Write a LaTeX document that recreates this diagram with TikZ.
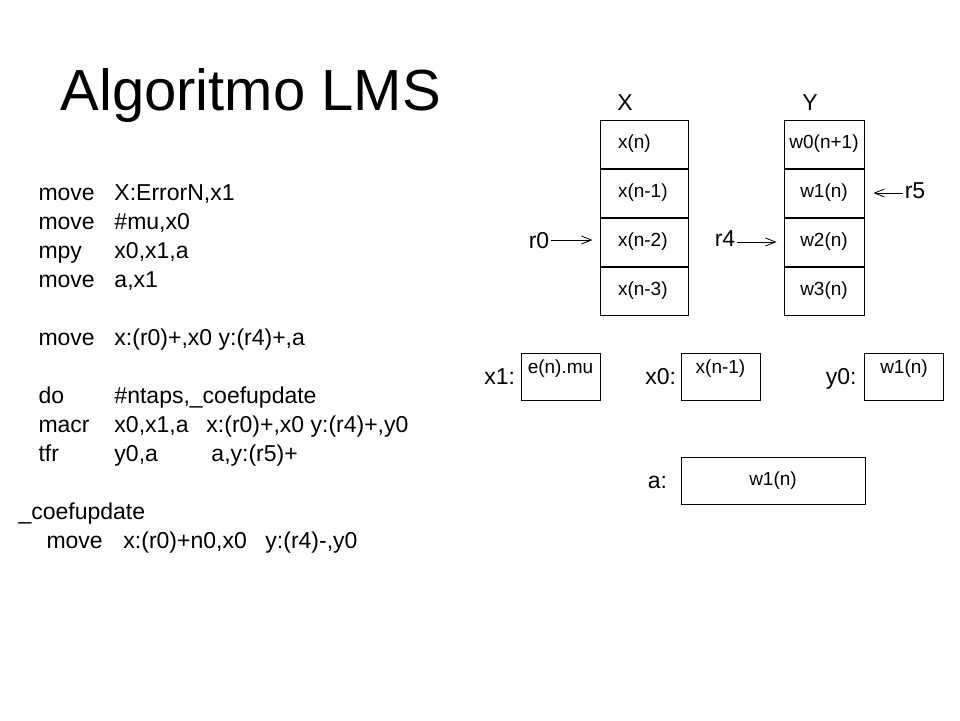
\documentclass[tikz,border=0pt]{standalone}
\usepackage{fontspec}
\setmainfont{Liberation Sans}
\usetikzlibrary{arrows.meta,positioning}
\tikzset
{
    titletext/.style = {anchor=base west, inner sep=0pt, font=\fontsize{58}{64}\selectfont},
    codeline/.style  = {anchor=base west, inner sep=0pt, font=\fontsize{23}{27}\selectfont},
    regname/.style   = {inner sep=1pt, text height=16pt, text depth=0pt, font=\fontsize{23}{27}\selectfont},
    cellx/.style     = {draw, line width=1pt, minimum height=48pt, inner xsep=18pt, text width=52pt, align=left, font=\fontsize{19}{21}\selectfont},
    celly/.style     = {draw, line width=1pt, minimum width=80pt, minimum height=48pt, inner sep=0pt, font=\fontsize{19}{21}\selectfont},
    regsmall/.style  = {draw, line width=1pt, minimum width=79pt, minimum height=47pt, inner sep=0pt, text height=13pt, text depth=20pt, font=\fontsize{19}{21}\selectfont},
    regwide/.style   = {draw, line width=1pt, minimum width=184pt, minimum height=47pt, inner sep=0pt, font=\fontsize{19}{21}\selectfont}
}
\newcommand{\opcol}[3][76pt]{\makebox[#1][l]{#2}#3}

\begin{document}
\begin{tikzpicture}[x=1pt, y=-1pt, ->, >={Straight Barb[length=10pt,width=8pt]}, line width=1pt]
    \useasboundingbox (0,0) rectangle (960,720);
    \node [titletext] (title) at (60,110) {Algoritmo LMS};

    % program listing
    \node [codeline] (l1)  at (38,200) {\opcol{move}{X:ErrorN,x1}};
    \node [codeline] (l2)  at (38,229) {\opcol{move}{\#mu,x0}};
    \node [codeline] (l3)  at (38,258) {\opcol{mpy}{x0,x1,a}};
    \node [codeline] (l4)  at (38,287) {\opcol{move}{a,x1}};
    \node [codeline] (l5)  at (38,345) {\opcol{move}{x:(r0)+,x0 y:(r4)+,a}};
    \node [codeline] (l6)  at (38,403) {\opcol{do}{\#ntaps,\_coefupdate}};
    \node [codeline] (l7)  at (38,432) {\opcol{macr}{\opcol[92pt]{x0,x1,a}{x:(r0)+,x0 y:(r4)+,y0}}};
    \node [codeline] (l8)  at (38,461) {\opcol{tfr}{\opcol[97pt]{y0,a}{a,y:(r5)+}}};
    \node [codeline] (l9)  at (18,519) {\_coefupdate};
    \node [codeline] (l10) at (46,548) {\opcol[77pt]{move}{\opcol[142pt]{x:(r0)+n0,x0}{y:(r4)-,y0}}};

    % X memory
    \node [regname] (memx) at (625,102) {X};
    \node [cellx] (xn)  at (644,144) {x(n)};
    \node [cellx, below=0pt of xn]  (xn1) {x(n-1)};
    \node [cellx, below=0pt of xn1] (xn2) {x(n-2)};
    \node [cellx, below=0pt of xn2] (xn3) {x(n-3)};

    % Y memory
    \node [regname] (memy) at (810,102) {Y};
    \node [celly] (wy0) at (824,144) {w0(n+1)};
    \node [celly, below=0pt of wy0] (wy1) {w1(n)};
    \node [celly, below=0pt of wy1] (wy2) {w2(n)};
    \node [celly, below=0pt of wy2] (wy3) {w3(n)};

    % address registers
    \node [regname] (r0) at (539,240) {r0};
    \node [regname] (r4) at (725,238) {r4};
    \node [regname] (r5) at (915,190) {r5};
    \draw [line width=0.8pt, shorten >=7pt] (r0.east) -- (r0.east -| xn2.west);
    \draw [line width=0.8pt, shorten >=7pt] (r4.east |- xn2.west) -- (wy2.west);
    \draw [line width=0.8pt, shorten >=9pt] (r5.west |- wy1.east) -- (wy1.east);

    % data registers
    \node [regsmall] (enmu) at (560.5,376.5) {e(n).mu};
    \node [regname, left=4pt of enmu] (lx1) {x1:};
    \node [regsmall] (xnm1) at (720.5,376.5) {x(n-1)};
    \node [regname, left=3pt of xnm1] (lx0) {x0:};
    \node [regsmall] (w1y) at (904,376.5) {w1(n)};
    \node [regname, left=6pt of w1y] (ly0) {y0:};
    \node [regwide] (w1a) at (773,480.5) {w1(n)};
    \node [regname, left=12pt of w1a] (la) {a:};
\end{tikzpicture}
\end{document}
